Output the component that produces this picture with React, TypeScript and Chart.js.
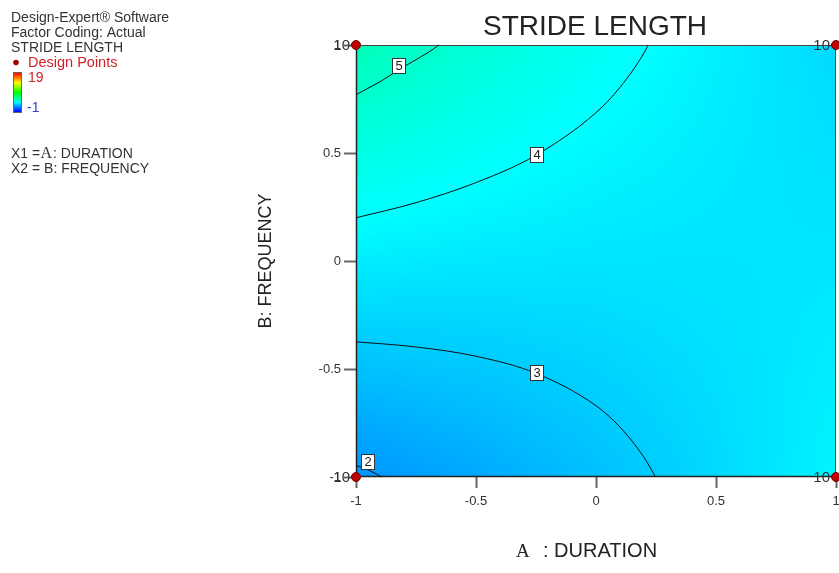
import React, { useEffect, useRef } from "react";
import { Chart, registerables } from "chart.js";

Chart.register(...registerables);

// ---------- text ----------
const chartTitle = "STRIDE LENGTH";
const xAxisFactor = "A";
const xAxisName = ": DURATION";
const yAxisTitle = "B: FREQUENCY";
const infoLines = ["Design-Expert® Software", "Factor Coding: Actual", "STRIDE LENGTH"];
const designPointsLabel = "Design Points";
const colorBarHigh = "19";
const colorBarLow = "-1";

// ---------- axes ----------
const tickValues = [-1, -0.5, 0, 0.5, 1];
const tickLabels = ["-1", "-0.5", "0", "0.5", "1"];

// ---------- response surface (values read at a 5x5 grid) ----------
const gridX = [-1, -0.5, 0, 0.5, 1];
const gridY = [1, 0.5, 0, -0.5, -1];
const surfaceRowTop = [5.41, 4.79, 4.23, 3.72, 3.26];
const surfaceRowUpper = [4.53, 4.17, 3.86, 3.6, 3.4];
const surfaceRowMid = [3.66, 3.55, 3.49, 3.49, 3.53];
const surfaceRowLower = [2.78, 2.93, 3.13, 3.37, 3.67];
const surfaceRowBottom = [1.91, 2.31, 2.76, 3.26, 3.81];
const colorMin = -1;
const colorMax = 19;

// ---------- contour lines ----------
const contour5X = [-1, -0.9, -0.8, -0.7, -0.654];
const contour5Y = [0.77, 0.83, 0.9, 0.965, 1];
const contour4X = [-1, -0.75, -0.5, -0.25, 0, 0.1, 0.2, 0.217];
const contour4Y = [0.2, 0.27, 0.363, 0.49, 0.687, 0.804, 0.963, 1];
const contour3X = [-1, -0.75, -0.5, -0.25, 0, 0.1, 0.2, 0.248];
const contour3Y = [-0.374, -0.398, -0.441, -0.52, -0.67, -0.769, -0.909, -1];
const contour2X = [-1, -0.95, -0.892];
const contour2Y = [-0.946, -0.967, -1];

const contourLevels = ["5", "4", "3", "2"];
const contourLabelX = [-0.82, -0.245, -0.245, -0.95];
const contourLabelY = [0.905, 0.49, -0.52, -0.93];

// ---------- design points ----------
const designX = [-1, 1, -1, 1];
const designY = [1, 1, -1, -1];
const designRuns = ["10", "10", "10", "10"];

const SANS = '"Liberation Sans", Arial, sans-serif';
const SERIF = '"Liberation Serif", "Times New Roman", serif';

const colorStops: number[][] = [
  [0, 0, 255],
  [0, 255, 255],
  [0, 255, 0],
  [255, 255, 0],
  [255, 0, 0],
];

function colorFor(v: number): number[] {
  let t = (v - colorMin) / (colorMax - colorMin);
  t = Math.max(0, Math.min(1, t));
  const seg = t * (colorStops.length - 1);
  const i = Math.min(colorStops.length - 2, Math.floor(seg));
  const f = seg - i;
  const a = colorStops[i];
  const b = colorStops[i + 1];
  return [a[0] + (b[0] - a[0]) * f, a[1] + (b[1] - a[1]) * f, a[2] + (b[2] - a[2]) * f];
}

const surfaceRows = [surfaceRowTop, surfaceRowUpper, surfaceRowMid, surfaceRowLower, surfaceRowBottom];

function surfaceAt(xv: number, yv: number): number {
  let i = 0;
  while (i < gridX.length - 2 && xv > gridX[i + 1]) i++;
  let j = 0;
  while (j < gridY.length - 2 && yv < gridY[j + 1]) j++;
  const fx = (xv - gridX[i]) / (gridX[i + 1] - gridX[i]);
  const fy = (yv - gridY[j]) / (gridY[j + 1] - gridY[j]);
  const v00 = surfaceRows[j][i];
  const v10 = surfaceRows[j][i + 1];
  const v01 = surfaceRows[j + 1][i];
  const v11 = surfaceRows[j + 1][i + 1];
  return v00 * (1 - fx) * (1 - fy) + v10 * fx * (1 - fy) + v01 * (1 - fx) * fy + v11 * fx * fy;
}

const toPoints = (xs: number[], ys: number[]) => xs.map((x, k) => ({ x, y: ys[k] }));

const heatmapPlugin = {
  id: "heatmap",
  beforeDatasetsDraw(chart: any) {
    const { ctx, chartArea: a, scales } = chart;
    const xs = scales.x;
    const ys = scales.y;
    const w = Math.round(a.right - a.left);
    const h = Math.round(a.bottom - a.top);
    const off = document.createElement("canvas");
    off.width = w;
    off.height = h;
    const octx = off.getContext("2d")!;
    const img = octx.createImageData(w, h);
    for (let j = 0; j < h; j++) {
      const yv = ys.getValueForPixel(a.top + j + 0.5);
      for (let i = 0; i < w; i++) {
        const xv = xs.getValueForPixel(a.left + i + 0.5);
        const c = colorFor(surfaceAt(xv, yv));
        const p = (j * w + i) * 4;
        img.data[p] = c[0];
        img.data[p + 1] = c[1];
        img.data[p + 2] = c[2];
        img.data[p + 3] = 255;
      }
    }
    octx.putImageData(img, 0, 0);
    ctx.save();
    ctx.drawImage(off, a.left, a.top);
    ctx.strokeStyle = "#444";
    ctx.lineWidth = 1;
    ctx.strokeRect(a.left + 0.5, a.top + 0.5, w - 1, h - 1);
    ctx.strokeStyle = "#222";
    ctx.lineWidth = 1.5;
    ctx.beginPath();
    ctx.moveTo(a.left + 0.5, a.top);
    ctx.lineTo(a.left + 0.5, a.bottom - 0.5);
    ctx.lineTo(a.right, a.bottom - 0.5);
    ctx.stroke();
    ctx.restore();
  },
};

const annotationPlugin = {
  id: "annotations",
  afterDatasetsDraw(chart: any) {
    const { ctx, scales } = chart;
    const xs = scales.x;
    const ys = scales.y;
    ctx.save();
    // contour labels
    ctx.font = `13px ${SANS}`;
    ctx.textAlign = "center";
    ctx.textBaseline = "middle";
    contourLevels.forEach((lab, k) => {
      const px = Math.round(xs.getPixelForValue(contourLabelX[k]));
      const py = Math.round(ys.getPixelForValue(contourLabelY[k]));
      ctx.fillStyle = "#fff";
      ctx.fillRect(px - 6.5, py - 7.5, 13, 15);
      ctx.strokeStyle = "#333";
      ctx.lineWidth = 1;
      ctx.strokeRect(px - 6.5, py - 7.5, 13, 15);
      ctx.fillStyle = "#222";
      ctx.fillText(lab, px, py + 0.5);
    });
    // design point run labels
    ctx.font = `15px ${SANS}`;
    ctx.textAlign = "right";
    ctx.textBaseline = "alphabetic";
    ctx.fillStyle = "#333";
    designRuns.forEach((lab, k) => {
      const px = xs.getPixelForValue(designX[k]);
      const py = ys.getPixelForValue(designY[k]);
      ctx.fillText(lab, px - 6, py + 5);
    });
    ctx.restore();
  },
  afterDraw(chart: any) {
    const { ctx, chartArea: a } = chart;
    ctx.save();
    // title
    ctx.fillStyle = "#222";
    ctx.font = `28px ${SANS}`;
    ctx.textAlign = "center";
    ctx.textBaseline = "alphabetic";
    ctx.fillText(chartTitle, 595, 35);

    // y axis title
    ctx.save();
    ctx.translate(266, (a.top + a.bottom) / 2);
    ctx.rotate(-Math.PI / 2);
    ctx.font = `18px ${SANS}`;
    ctx.textBaseline = "middle";
    ctx.textAlign = "center";
    ctx.fillStyle = "#222";
    ctx.fillText(yAxisTitle, 0, 0);
    ctx.restore();

    // x axis title
    ctx.textAlign = "left";
    ctx.fillStyle = "#222";
    ctx.font = `19px ${SERIF}`;
    ctx.fillText(xAxisFactor, 516, 557);
    ctx.font = `20px ${SANS}`;
    ctx.fillText(xAxisName, 543, 557);

    // info block
    ctx.font = `14px ${SANS}`;
    ctx.fillStyle = "#333";
    infoLines.forEach((t, k) => ctx.fillText(t, 11, 21.5 + k * 15));
    ctx.fillStyle = "#a00000";
    ctx.beginPath();
    ctx.arc(16, 62.5, 2.8, 0, Math.PI * 2);
    ctx.fill();
    ctx.fillStyle = "#d0202a";
    ctx.font = `14.5px ${SANS}`;
    ctx.fillText(designPointsLabel, 28, 66.5);
    ctx.font = `14px ${SANS}`;

    // color bar
    const g = ctx.createLinearGradient(0, 73, 0, 112);
    colorStops
      .slice()
      .reverse()
      .forEach((c, k) => g.addColorStop(k / (colorStops.length - 1), `rgb(${c[0]},${c[1]},${c[2]})`));
    ctx.fillStyle = g;
    ctx.fillRect(14, 73, 7, 39);
    ctx.strokeStyle = "#666";
    ctx.lineWidth = 1;
    ctx.strokeRect(13.5, 72.5, 8, 40);
    ctx.fillStyle = "#d0202a";
    ctx.fillText(colorBarHigh, 28, 82);
    ctx.fillStyle = "#3040d0";
    ctx.fillText(colorBarLow, 27, 111.5);

    // factor list
    ctx.fillStyle = "#333";
    ctx.fillText("X1 =", 11, 158);
    ctx.font = `16px ${SERIF}`;
    ctx.fillText(xAxisFactor, 40.5, 158);
    ctx.font = `14px ${SANS}`;
    ctx.fillText(xAxisName, 53, 158);
    ctx.fillText("X2 = " + yAxisTitle, 11, 172.5);
    ctx.restore();
  },
};

export default function App() {
  const ref = useRef<HTMLCanvasElement | null>(null);

  useEffect(() => {
    if (!ref.current) return;
    const lineDs = (xs: number[], ys: number[]) => ({
      type: "line" as const,
      data: toPoints(xs, ys),
      showLine: true,
      borderColor: "#111",
      borderWidth: 1,
      pointRadius: 0,
      fill: false,
      cubicInterpolationMode: "monotone" as const,
      clip: 2,
    });
    const chart = new Chart(ref.current, {
      type: "scatter",
      data: {
        datasets: [
          lineDs(contour5X, contour5Y),
          lineDs(contour4X, contour4Y),
          lineDs(contour3X, contour3Y),
          lineDs(contour2X, contour2Y),
          {
            type: "scatter",
            data: toPoints(designX, designY),
            pointRadius: 4.5,
            pointBackgroundColor: "#c00000",
            pointBorderColor: "#700000",
            pointBorderWidth: 1,
            clip: false,
          } as any,
        ],
      },
      options: {
        animation: false,
        responsive: false,
        devicePixelRatio: 1,
        layout: { autoPadding: false, padding: { left: 296, right: 3, top: 45, bottom: 56 } },
        plugins: { legend: { display: false }, tooltip: { enabled: false }, title: { display: false } },
        scales: {
          x: {
            type: "linear",
            min: -1,
            max: 1,
            afterBuildTicks: (s: any) => {
              s.ticks = tickValues.map((v) => ({ value: v }));
            },
            afterFit: (s: any) => {
              s.height = 40;
              s.paddingLeft = 0;
              s.paddingRight = 0;
            },
            ticks: {
              callback: (_v: any, i: number) => tickLabels[i],
              font: { family: SANS, size: 13 },
              color: "#333",
              padding: 6,
              maxRotation: 0,
              autoSkip: false,
            },
            grid: { drawOnChartArea: false, tickLength: 11, tickColor: "#666", tickWidth: 2 },
            border: { display: false },
          },
          y: {
            type: "linear",
            min: -1,
            max: 1,
            afterBuildTicks: (s: any) => {
              s.ticks = tickValues.map((v) => ({ value: v }));
            },
            afterFit: (s: any) => {
              s.width = 60;
              s.paddingTop = 0;
              s.paddingBottom = 0;
            },
            ticks: {
              callback: (_v: any, i: number) => tickLabels[i],
              font: { family: SANS, size: 13 },
              color: "#333",
              padding: 3,
              autoSkip: false,
            },
            grid: { drawOnChartArea: false, tickLength: 12, tickColor: "#666", tickWidth: 2 },
            border: { display: false },
          },
        },
      },
      plugins: [heatmapPlugin, annotationPlugin],
    } as any);
    return () => chart.destroy();
  }, []);

  return (
    <div style={{ position: "absolute", left: 0, top: 0, width: 839, height: 573, background: "#fff" }}>
      <canvas ref={ref} width={839} height={573} style={{ display: "block" }} />
    </div>
  );
}
